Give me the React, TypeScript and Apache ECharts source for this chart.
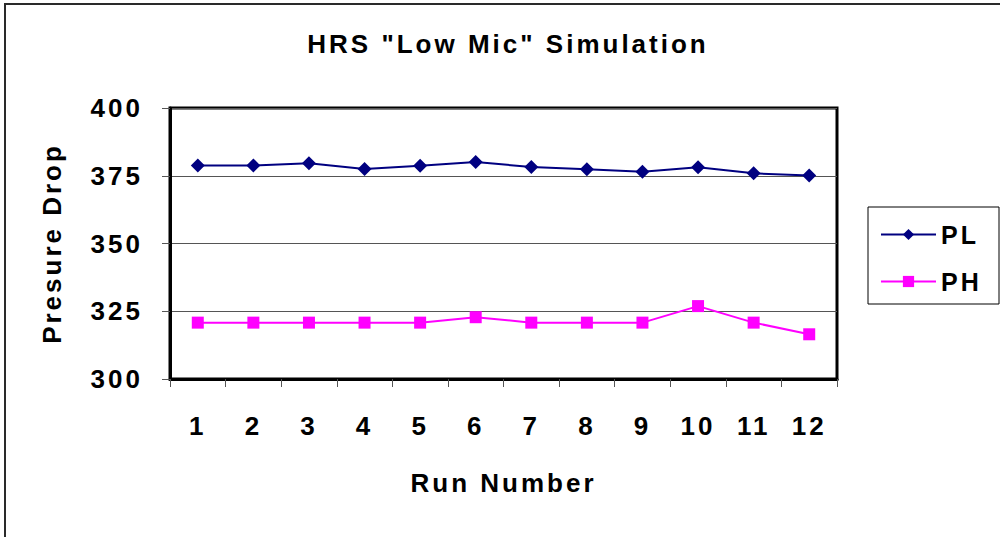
import React, { useEffect, useRef } from "react";
import * as echarts from "echarts";

const runs = ["1", "2", "3", "4", "5", "6", "7", "8", "9", "10", "11", "12"];
const plValues = [378.8, 378.8, 379.6, 377.5, 378.7, 380.1, 378.2, 377.4, 376.5, 378.1, 375.9, 375.1];
const phValues = [320.8, 320.8, 320.8, 320.8, 320.8, 322.8, 320.8, 320.8, 320.8, 326.9, 320.8, 316.5];
const yMin = 300;
const yMax = 400;
const yStep = 25;

const FONT = "Liberation Sans, Arial, Helvetica, sans-serif";

export default function App() {
  const ref = useRef<HTMLDivElement>(null);

  useEffect(() => {
    if (!ref.current) return;
    const chart = echarts.init(ref.current, undefined, { renderer: "svg" });
    chart.setOption({
      animation: false,
      backgroundColor: "#ffffff",
      textStyle: { fontFamily: FONT },
      title: {
        text: 'HRS "Low Mic" Simulation',
        left: 503,
        top: 26,
        textAlign: "center",
        textStyle: { fontSize: 26, fontWeight: "bold", color: "#000", fontFamily: FONT },
      },
      grid: {
        left: 170,
        right: 163,
        top: 108,
        bottom: 158,
        show: true,
        borderColor: "#000",
        borderWidth: 3,
        backgroundColor: "#fff",
      },
      legend: {
        orient: "vertical",
        left: 880,
        top: 222,
        itemWidth: 55,
        itemHeight: 14,
        itemGap: 22,
        padding: 0,
        textStyle: { fontSize: 25, fontWeight: "bold", color: "#000", fontFamily: FONT },
        data: ["PL", "PH"],
      },
      graphic: [
        {
          type: "rect",
          shape: { x: 868, y: 207, width: 131, height: 97 },
          style: { fill: "none", stroke: "#000", lineWidth: 1 },
          z: 10,
        },
        {
          type: "polyline",
          shape: { points: [[5, 540], [5, 4], [1002, 4]] },
          style: { fill: "none", stroke: "#2a2a2a", lineWidth: 2 },
        },
      ],
      xAxis: {
        type: "category",
        data: runs,
        boundaryGap: true,
        name: "Run Number",
        nameLocation: "middle",
        nameGap: 91,
        nameTextStyle: { fontSize: 26, fontWeight: "bold", color: "#000", fontFamily: FONT },
        axisLine: { lineStyle: { color: "#000", width: 3 } },
        axisTick: { show: true, length: 8, lineStyle: { color: "#555", width: 1 } },
        axisLabel: { fontSize: 26, fontWeight: "bold", color: "#000", margin: 34, fontFamily: FONT },
        splitLine: { show: false },
      },
      yAxis: {
        type: "value",
        min: yMin,
        max: yMax,
        interval: yStep,
        name: "Presure Drop",
        nameLocation: "middle",
        nameGap: 105,
        nameTextStyle: { fontSize: 26, fontWeight: "bold", color: "#000", fontFamily: FONT },
        axisLine: { show: true, lineStyle: { color: "#000", width: 3 } },
        axisTick: { show: true, length: 8, lineStyle: { color: "#555", width: 1 } },
        axisLabel: { fontSize: 26, fontWeight: "bold", color: "#000", margin: 27, fontFamily: FONT },
        splitLine: { show: true, lineStyle: { color: "#555", width: 1 } },
      },
      series: [
        {
          name: "PL",
          type: "line",
          data: plValues,
          symbol: "diamond",
          symbolSize: 14,
          itemStyle: { color: "#000080" },
          lineStyle: { color: "#000080", width: 2 },
        },
        {
          name: "PH",
          type: "line",
          data: phValues,
          symbol: "rect",
          symbolSize: 12,
          itemStyle: { color: "#ff00ff" },
          lineStyle: { color: "#ff00ff", width: 2 },
        },
      ],
    });
    return () => chart.dispose();
  }, []);

  return (
    <div
      ref={ref}
      style={{
        position: "absolute",
        left: 0,
        top: 0,
        width: 1000,
        height: 537,
        letterSpacing: "3px",
        background: "#fff",
      }}
    />
  );
}
